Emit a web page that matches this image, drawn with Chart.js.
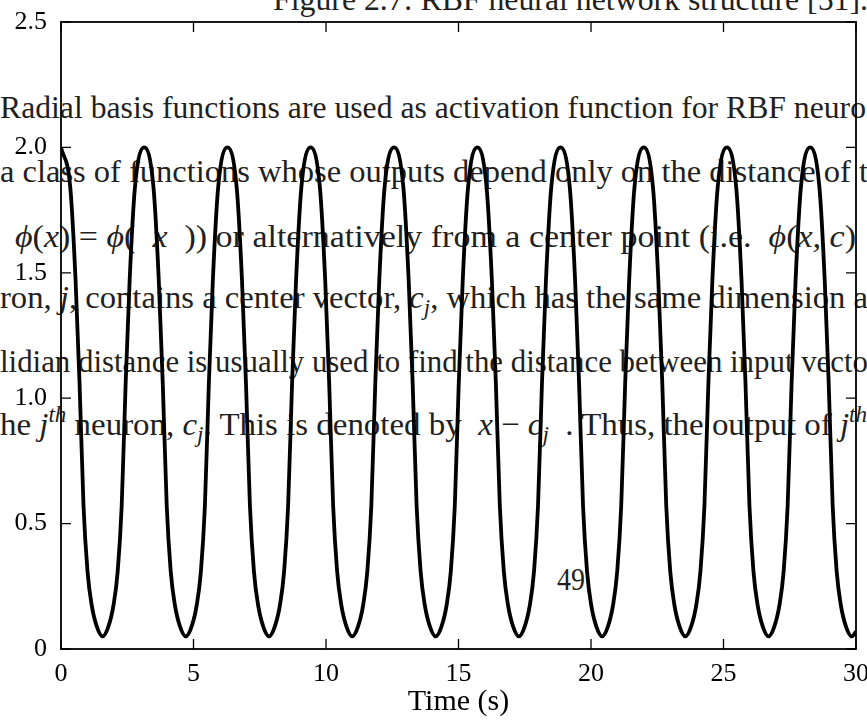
<!DOCTYPE html>
<html>
<head>
<meta charset="utf-8">
<script src="https://cdn.jsdelivr.net/npm/chart.js@4/dist/chart.umd.min.js"></script>
<style>
  html, body { margin: 0; padding: 0; background: #fff; overflow: hidden; }
  #page { position: relative; width: 867px; height: 720px; overflow: hidden; }
  #c { position: absolute; left: 0; top: 0; z-index: 1; }
  .ln {
    position: absolute; z-index: 0; white-space: nowrap;
    font-family: 'Liberation Serif', 'Times New Roman', serif;
    font-size: 32px; line-height: normal; color: #231f20;
    transform-origin: 0 0;
  }
  .ln i { font-style: italic; }
  .sup { font-size: 0.7em; position: relative; top: -0.6em; }
  .sub { font-size: 0.7em; position: relative; top: 0.3em; }
</style>
</head>
<body>
<div id="page">
  <!-- page text that shows through the figure -->
  <div class="ln" data-base="9" data-l="273" data-r="868">Figure 2.7: RBF neural network structure [51].</div>
  <div class="ln" data-base="118" data-l="0" data-r="866">Radial basis functions are used as activation function for RBF neuro</div>
  <div class="ln" data-base="182" data-l="0" data-r="868">a class of functions whose outputs depend only on the distance of t</div>
  <div class="ln" data-base="247" data-l="15" data-r="856"><i>ϕ</i>(<i>x</i>) = <i>ϕ</i>( &nbsp;<i>x</i> &nbsp;)) or alternatively from a center point (i.e. &nbsp;<i>ϕ</i>(<i>x, c</i>)</div>
  <div class="ln" data-base="308" data-l="0" data-r="868">ron, <i>j</i>, contains a center vector, <i>c<span class="sub">j</span></i>, which has the same dimension a</div>
  <div class="ln" data-base="372" data-l="0" data-r="868">lidian distance is usually used to find the distance between input vecto</div>
  <div class="ln" data-base="435" data-l="0" data-r="867">he <i>j<span class="sup">th</span></i> neuron, <i>c<span class="sub">j</span></i>. This is denoted by &nbsp;<i>x</i> − <i>c<span class="sub">j</span></i> &nbsp;. Thus, the output of <i>j<span class="sup">th</span></i></div>
  <div class="ln" data-base="590" data-l="557" data-r="585">49</div>
  <canvas id="c" width="867" height="720"></canvas>
</div>
<script>
// time axis (s), one row per cycle
const time = [
  0, 0.35, 0.55, 0.70, 0.85, 1.00, 1.15, 1.35, 1.57, 1.79, 1.99, 2.14, 2.29, 2.44, 2.59, 2.79,
  3.14, 3.49, 3.69, 3.84, 3.99, 4.14, 4.29, 4.49, 4.71, 4.93, 5.13, 5.28, 5.43, 5.58, 5.73, 5.93,
  6.28, 6.63, 6.83, 6.98, 7.13, 7.28, 7.43, 7.63, 7.85, 8.07, 8.27, 8.42, 8.57, 8.72, 8.87, 9.07,
  9.42, 9.77, 9.97, 10.12, 10.27, 10.42, 10.57, 10.77, 10.99, 11.21, 11.41, 11.56, 11.71, 11.86, 12.01, 12.21,
  12.57, 12.92, 13.12, 13.27, 13.42, 13.57, 13.72, 13.92, 14.14, 14.36, 14.56, 14.71, 14.86, 15.01, 15.16, 15.36,
  15.71, 16.06, 16.26, 16.41, 16.56, 16.71, 16.86, 17.06, 17.28, 17.50, 17.70, 17.85, 18.00, 18.15, 18.30, 18.50,
  18.85, 19.20, 19.40, 19.55, 19.70, 19.85, 20.00, 20.20, 20.42, 20.64, 20.84, 20.99, 21.14, 21.29, 21.44, 21.64,
  21.99, 22.34, 22.54, 22.69, 22.84, 22.99, 23.14, 23.34, 23.56, 23.78, 23.98, 24.13, 24.28, 24.43, 24.58, 24.78,
  25.13, 25.48, 25.68, 25.83, 25.98, 26.13, 26.28, 26.48, 26.70, 26.92, 27.12, 27.27, 27.42, 27.57, 27.72, 27.92,
  28.27, 28.62, 28.82, 28.97, 29.12, 29.27, 29.42, 29.62, 29.84, 30.00
];

const response = [
  2.00, 1.84, 1.47, 1.06, 0.57, 0.31, 0.18, 0.09, 0.05, 0.09, 0.18, 0.31, 0.57, 1.06, 1.47, 1.84,
  2.00, 1.84, 1.47, 1.06, 0.57, 0.31, 0.18, 0.09, 0.05, 0.09, 0.18, 0.31, 0.57, 1.06, 1.47, 1.84,
  2.00, 1.84, 1.47, 1.06, 0.57, 0.31, 0.18, 0.09, 0.05, 0.09, 0.18, 0.31, 0.57, 1.06, 1.47, 1.84,
  2.00, 1.84, 1.47, 1.06, 0.57, 0.31, 0.18, 0.09, 0.05, 0.09, 0.18, 0.31, 0.57, 1.06, 1.47, 1.84,
  2.00, 1.84, 1.47, 1.06, 0.57, 0.31, 0.18, 0.09, 0.05, 0.09, 0.18, 0.31, 0.57, 1.06, 1.47, 1.84,
  2.00, 1.84, 1.47, 1.06, 0.57, 0.31, 0.18, 0.09, 0.05, 0.09, 0.18, 0.31, 0.57, 1.06, 1.47, 1.84,
  2.00, 1.84, 1.47, 1.06, 0.57, 0.31, 0.18, 0.09, 0.05, 0.09, 0.18, 0.31, 0.57, 1.06, 1.47, 1.84,
  2.00, 1.84, 1.47, 1.06, 0.57, 0.31, 0.18, 0.09, 0.05, 0.09, 0.18, 0.31, 0.57, 1.06, 1.47, 1.84,
  2.00, 1.84, 1.47, 1.06, 0.57, 0.31, 0.18, 0.09, 0.05, 0.09, 0.18, 0.31, 0.57, 1.06, 1.47, 1.84,
  2.00, 1.84, 1.47, 1.06, 0.57, 0.31, 0.18, 0.09, 0.05, 0.07
];

const xTicks = [0, 5, 10, 15, 20, 25, 30];
const yTicks = [0, 0.5, 1.0, 1.5, 2.0, 2.5];
const xTitle = 'Time (s)';

// stretch each text line to where it sits in the picture
document.querySelectorAll('.ln').forEach(el => {
  const w = el.getBoundingClientRect().width;
  const fs = 32;
  el.style.left = el.dataset.l + 'px';
  el.style.top = (+el.dataset.base - 0.891 * fs) + 'px';
  el.style.transform = `scaleX(${(el.dataset.r - el.dataset.l) / w})`;
});

const FONT = "'Liberation Serif', 'Times New Roman', serif";

// box frame with inward tick marks on all four sides
const framePlugin = {
  id: 'frame',
  afterDatasetsDraw(chart) {
    const { ctx, chartArea: a, scales: { x, y } } = chart;
    const tl = 10;
    ctx.save();
    ctx.strokeStyle = '#000';
    ctx.lineWidth = 1.3;
    ctx.beginPath();
    xTicks.forEach(v => {
      const px = x.getPixelForValue(v);
      ctx.moveTo(px, a.bottom); ctx.lineTo(px, a.bottom - tl);
      ctx.moveTo(px, a.top); ctx.lineTo(px, a.top + tl);
    });
    yTicks.forEach(v => {
      const py = y.getPixelForValue(v);
      ctx.moveTo(a.left, py); ctx.lineTo(a.left + tl, py);
      ctx.moveTo(a.right, py); ctx.lineTo(a.right - tl, py);
    });
    ctx.stroke();
    ctx.lineWidth = 1.8;
    ctx.strokeRect(a.left, a.top, a.right - a.left, a.bottom - a.top);
    ctx.restore();
  }
};

new Chart(document.getElementById('c').getContext('2d'), {
  type: 'line',
  data: {
    datasets: [{
      data: time.map((t, i) => ({ x: t, y: response[i] })),
      borderColor: '#000',
      borderWidth: 3.8,
      pointRadius: 0,
      fill: false,
      cubicInterpolationMode: 'monotone',
    }],
  },
  options: {
    responsive: false,
    animation: false,
    devicePixelRatio: 1,
    layout: { padding: { left: 0, right: 11, top: 22, bottom: 0 } },
    plugins: { legend: { display: false }, tooltip: { enabled: false } },
    scales: {
      x: {
        type: 'linear',
        min: 0,
        max: 30,
        afterBuildTicks: s => { s.ticks = xTicks.map(v => ({ value: v })); },
        afterFit: s => { s.height = 71; s.paddingLeft = 0; s.paddingRight = 0; },
        grid: { display: false, drawTicks: false },
        border: { display: false },
        ticks: { color: '#000', padding: 10, font: { family: FONT, size: 26 } },
        title: {
          display: true,
          text: xTitle,
          color: '#000',
          padding: { top: 0, bottom: 0 },
          font: { family: FONT, size: 30 },
        },
      },
      y: {
        min: 0,
        max: 2.5,
        afterBuildTicks: s => { s.ticks = yTicks.map(v => ({ value: v })); },
        afterFit: s => { s.width = 61; s.paddingTop = 0; s.paddingBottom = 0; },
        grid: { display: false, drawTicks: false },
        border: { display: false },
        ticks: {
          color: '#000',
          padding: 14,
          font: { family: FONT, size: 26 },
          callback: v => v === 0 ? '0' : v.toFixed(1),
        },
      },
    },
  },
  plugins: [framePlugin],
});
</script>
</body>
</html>
